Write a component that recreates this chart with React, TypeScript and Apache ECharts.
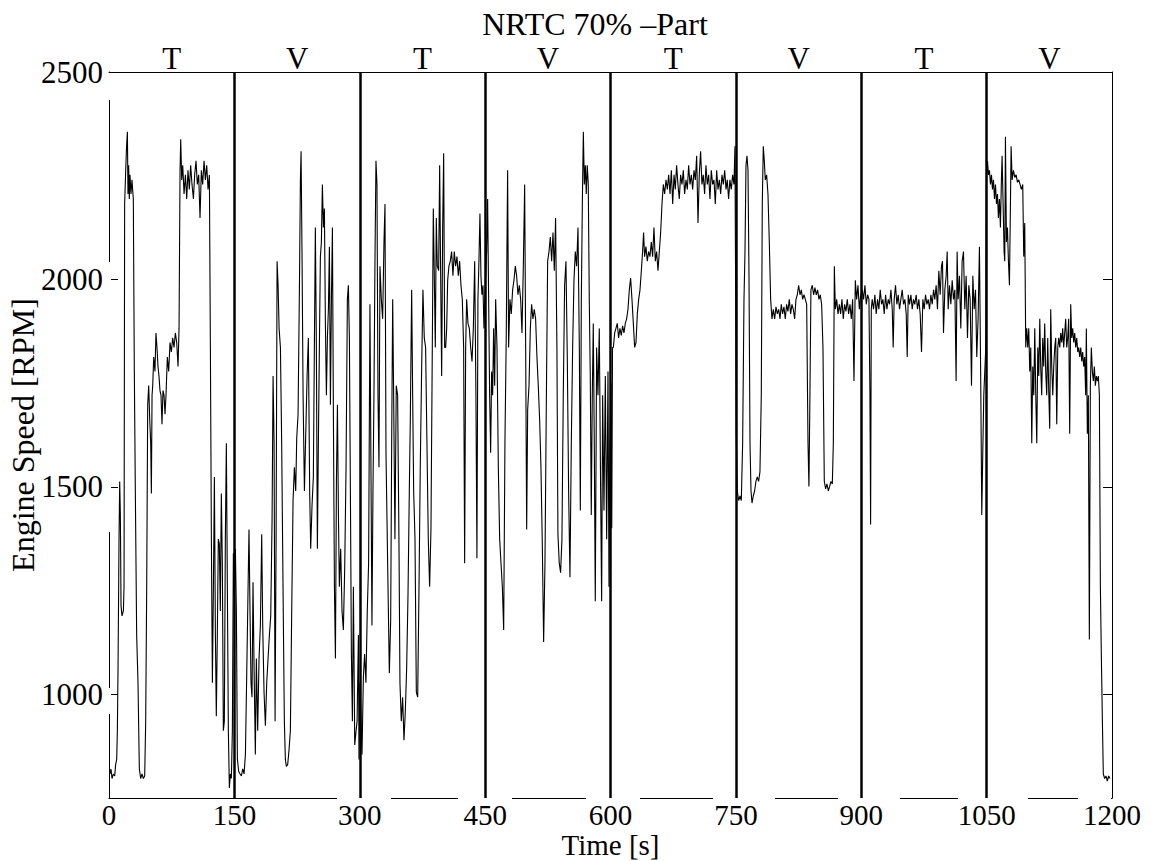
import React, { useEffect, useRef } from "react";
import * as echarts from "echarts";

// Engine speed [RPM] vs time [s], one array per test phase
const phase1: number[][] = [
[1.2,808],[2.4,820],[3.6,797],[5.2,808],[6.8,803],[8,831],[9.2,843],[10,912],[10.8,1062],[12,1374],[12.8,1513],[13.6,1432],[14.4,1213],[15.6,1189],[17.2,1201],[18,1259],[18.7,2182],[20,2263],[21,2321],[22,2356],[22.7,2206],[23.5,2275],[24.3,2194],[25.1,2252],[26.3,2206],[27.5,2240],[29.1,2194],[30.3,1778],[31.5,1490],[33.1,1143],[34.7,1028],[36.3,820],[37.9,797],[39.5,808],[41.1,797],[42.7,803],[43.9,935],[45.1,1259],[46.3,1698],[47.5,1744],[48.7,1663],[49.9,1605],[50.7,1484],[51.5,1721],[52.3,1744],[53.5,1813],[55,1778],[56.2,1871],[57.4,1836],[58.6,1790],[59.8,1767],[61,1732],[62.2,1721],[63.4,1651],[64.6,1732],[65.8,1721],[67,1675],[68.2,1721],[69.8,1813],[71.4,1778],[73,1848],[74.6,1825],[76.2,1859],[77.8,1836],[79.4,1871],[81,1848],[82.6,1790],[83.8,1882],[85,2263],[85.8,2338],[87,2240],[88.2,2275],[89.8,2206],[91.4,2252],[93,2194],[94.5,2263],[96.1,2217],[97.7,2275],[99.3,2229],[101,2194],[102.5,2252],[104.1,2286],[105.7,2229],[107.3,2252],[108.9,2148],[110.5,2263],[112.1,2229],[113.7,2286],[115.3,2240],[116.9,2275],[118.5,2217],[120.1,2252],[121.3,1836],[122.5,1374],[123.7,1028],[124.9,1259],[126.1,1524],[127.3,1143],[128.4,947],[129.6,1143],[130.8,1374],[132,1363],[133.2,1201],[134.4,1484],[135.6,1316],[136.8,912],[138,935],[139.2,1374],[140.4,1605],[141.6,1259],[142.8,912],[144,774],[145.2,808],[146.4,797],[147.6,912],[148.8,1340]
];
const phase2: number[][] = [
[150,1236],[151.2,1351],[152.4,1201],[153.6,843],[155.2,814],[156.8,808],[158.4,803],[160,820],[161.6,808],[163.2,855],[164.8,1051],[166.4,1259],[167.5,1397],[168.7,1201],[169.9,1028],[171.1,993],[172.3,1270],[173.5,1074],[175.1,855],[176.3,1086],[177.9,912],[179.5,1086],[181.1,1166],[182.7,1386],[183.9,1166],[185.5,1005],[187.1,924],[188.7,1028],[190.3,1086],[191.9,1143],[193.5,1189],[195.1,1420],[196.3,1767],[197.5,1605],[198.7,935],[199.9,1374],[201.1,2044],[202.3,1986],[203.5,1882],[205.1,1836],[206.6,1605],[208.2,1259],[209.8,935],[211,843],[212.2,826],[213.8,831],[215.4,866],[217,912],[218.6,1201],[220.2,1467],[221.8,1547],[223.4,1490],[224.6,1617],[226.2,1675],[227.8,1975],[229,2240],[229.8,2309],[231,2044],[232.2,1721],[233.8,1490],[235.4,1628],[237,1767],[238.5,1859],[240.1,1490],[241.3,1351],[242.9,1455],[244.5,1524],[245.7,1836],[246.9,2125],[248.1,1836],[249.3,1351],[250.5,1605],[251.7,1836],[252.9,2055],[254.1,2090],[255.3,2229],[256.5,2125],[257.7,2171],[258.9,1894],[260.1,1721],[261.3,1859],[262.5,1928],[263.7,2079],[264.9,1698],[266.1,1952],[267.3,2125],[268.5,1663],[269.7,1259],[270.9,1086],[272.1,1513],[273.3,1698],[274.5,1432],[275.6,1259],[277.2,1351],[278.8,1201],[280.4,1155],[282,1305],[283.6,1547],[285.2,1952],[286.4,1986],[287.6,1859],[288.8,1490],[290,1097],[291.2,935],[292.4,1259],[294,878],[295.6,912],[296.8,935],[298.4,1143],[299.1,843]
];
const phase3: number[][] = [
[300.3,1028],[301.5,935],[302.7,855],[304.3,1039],[305.8,1097],[307.4,1028],[309,1201],[310.6,1316],[312.2,1940],[313.4,1547],[314.6,1166],[315.8,1490],[317,1721],[318.2,2044],[319.4,2286],[320.6,2229],[321.8,1721],[323,1547],[324.2,2032],[325.8,1952],[327.4,1905],[329,2090],[330.2,2182],[331.4,1582],[332.6,1420],[333.8,1259],[335.4,1051],[337,1178],[338.2,1605],[339.4,1952],[340.5,1732],[342.1,1374],[343.7,1744],[345.3,1721],[346.9,1374],[348.1,1028],[349.7,935],[351.3,993],[352.9,889],[354.5,958],[356.1,1062],[357.7,1236],[359.3,1490],[360.5,1663],[362.1,1975],[363.3,1721],[364.5,1490],[366.1,1374],[367.7,1005],[369.3,993],[370.9,1259],[372.4,1547],[374,1778],[375.6,1975],[377.2,1859],[378.8,1836],[380.4,1605],[382,1374],[383.6,1259],[385.2,1397],[386.8,1836],[388,2171],[389.2,2009],[390.4,1836],[391.6,2148],[392.8,2032],[394.4,2021],[395.6,2275],[396.8,2009],[398,1767],[399.2,2125],[400.4,2304],[401.6,1836],[402.8,1836],[404,1882],[405.2,1998],[406.7,2032],[408.3,2044],[409.9,2067],[411.5,2009],[413.1,2067],[414.7,2032],[416.3,2055],[417.9,2009],[419.5,2044],[421.1,1986],[422.7,1952],[424.3,1836],[425.5,1316],[426.7,1836],[427.9,1952],[429.5,1894],[431.1,1882],[432.7,1836],[434.3,1802],[435.9,1882],[437.5,2044],[439,1721],[440.2,1328],[441.4,1952],[442.6,2044],[443.8,2159],[445,2009],[446.2,1963],[447.4,1986],[448.6,1882]
];
const phase4: number[][] = [
[450.6,2009],[451.8,2067],[453,2194],[454.2,1952],[455.4,1721],[456.6,1582],[457.8,1778],[459,1721],[460.2,1882],[461.4,1744],[462.6,1952],[464.2,1836],[465.8,1547],[467.4,1374],[469,1316],[470.6,1259],[472.2,1155],[473.7,1605],[475.3,1871],[476.9,2263],[478.1,1836],[479.7,1952],[481.3,1917],[482.9,1975],[484.5,1998],[486.1,2032],[487.7,2009],[489.3,1963],[490.9,1986],[492.5,1952],[494.1,1871],[495.7,2032],[497.3,2229],[498.5,1836],[499.7,1397],[500.9,1686],[502.5,1744],[504.1,1882],[505.6,1940],[507.2,1905],[508.8,1928],[510.4,1905],[512,1813],[513.6,1744],[515.2,1663],[516.8,1547],[518.4,1363],[520,1126],[521.6,1316],[523.2,1698],[524.8,2044],[526.4,2067],[528,2102],[529.6,2044],[531.2,2113],[532.8,2021],[534.3,2148],[535.9,1836],[537.1,1386],[538.7,1316],[540.3,1293],[541.9,1374],[543.5,1721],[545.1,1986],[546.7,2044],[548.3,1813],[549.9,1490],[551.5,1282],[553.1,1605],[554.7,1836],[556.3,1998],[557.9,2067],[559.5,2032],[561.1,2125],[562.7,1836],[563.9,1443],[565.1,1952],[566.3,2182],[567.5,2356],[568.7,2229],[569.9,2275],[571,2206],[572.2,2275],[573.4,2229],[574.6,1952],[575.8,1767],[577,1432],[578.2,1721],[579.4,1894],[580.6,1605],[581.8,1224],[583.4,1836],[585,1721],[586.6,1882],[588.2,1490],[589.4,1224],[590.6,1721],[592.2,1443],[593.8,1767],[595.4,1374],[597,1778],[598.2,1259],[599.2,1600]
];
const phase5: number[][] = [
[600.5,1750],[601.5,1400],[602.4,1836],[603.4,1836],[605,1871],[606.5,1882],[608.1,1894],[609.7,1859],[611.3,1882],[612.9,1865],[614.5,1888],[616.1,1871],[617.7,1894],[619.3,1905],[620.9,1928],[622.5,1975],[624.1,2003],[625.7,1952],[627.3,1894],[628.9,1836],[630.5,1848],[632.1,1917],[633.7,1952],[635.3,1975],[636.9,2021],[638.4,2067],[639.6,2113],[640.8,2055],[642.4,2079],[644,2044],[645.6,2067],[647.2,2055],[648.8,2090],[650.4,2055],[652,2125],[653.6,2044],[655.2,2067],[656.8,2021],[658.4,2067],[660,2113],[661.6,2182],[663.2,2229],[664.8,2206],[666.4,2240],[668,2217],[669.6,2252],[671.2,2206],[672.8,2263],[674.4,2182],[676,2252],[677.5,2217],[679.1,2275],[680.7,2229],[682.3,2194],[683.9,2252],[685.5,2229],[687.1,2263],[688.7,2206],[690.3,2240],[691.9,2217],[693.5,2275],[695.1,2229],[696.7,2252],[698.3,2217],[699.9,2263],[701.5,2240],[703.1,2298],[704.7,2136],[706.2,2252],[707.8,2309],[709.4,2229],[711,2252],[712.6,2206],[714.2,2275],[715.8,2229],[717.4,2252],[719,2194],[720.6,2263],[722.2,2229],[723.8,2240],[725.4,2182],[727,2263],[728.6,2217],[730.2,2240],[731.8,2206],[733.4,2252],[735,2229],[736.6,2263],[738.2,2217],[739.7,2240],[741.3,2194],[742.9,2240],[744.5,2217],[746.1,2252],[747.7,2229],[748.9,2321]
];
const phase6: number[][] = [
[750.5,1628],[751.7,1490],[753.3,1467],[754.9,1478],[756.5,1467],[758.1,1605],[759.7,1952],[760.9,2067],[762.1,2275],[763.3,2298],[764.5,2263],[765.7,2009],[766.9,1605],[768.1,1490],[769.3,1461],[770.8,1478],[772.4,1490],[774,1513],[775.6,1524],[777.2,1513],[778.8,1536],[780.4,1721],[781.6,2182],[782.8,2321],[784,2286],[785.2,2240],[786.8,2252],[788.4,2206],[790,2090],[791.6,1952],[793.2,1905],[794.8,1928],[796.4,1905],[798,1934],[799.6,1917],[801.2,1928],[802.8,1905],[804.3,1940],[805.9,1917],[807.5,1934],[809.1,1905],[810.7,1940],[812.3,1923],[813.9,1952],[815.5,1917],[817.1,1940],[818.7,1928],[820.3,1905],[821.9,1952],[823.5,1963],[825.1,1986],[826.7,1963],[828.3,1975],[829.9,1952],[831.5,1963],[833.1,1952],[834.7,1940],[836.3,1605],[837.4,1501],[838.6,1721],[839.8,1975],[841.4,1986],[843,1963],[844.6,1980],[846.2,1963],[847.8,1975],[849.4,1952],[851,1963],[852.6,1940],[854.2,1836],[855.8,1513],[857.4,1495],[859,1507],[860.6,1490],[862.2,1501],[863.8,1513],[865.4,1507],[866.6,1605],[867.8,2032],[869,1928],[870.6,1952],[872.2,1917],[873.8,1940],[875.3,1917],[876.9,1952],[878.5,1905],[880.1,1940],[881.7,1923],[883.3,1952],[884.9,1917],[886.5,1940],[888.1,1905],[889.7,1952],[891.3,1755],[892.9,1998],[894.5,1952],[896.1,1986],[897.7,1928],[899.2,1960]
];
const phase7: number[][] = [
[901.2,1975],[902.8,1952],[904.4,1986],[906,1940],[907.6,1963],[909.2,1952],[910.4,1721],[911.2,1409],[912,1928],[913.1,1952],[914.7,1928],[916.3,1963],[917.9,1917],[919.5,1952],[921.1,1928],[922.7,1975],[924.3,1940],[925.9,1952],[927.5,1917],[929.1,1963],[930.7,1928],[932.3,1952],[933.9,1940],[935.5,1975],[937.1,1928],[938.2,1836],[939.4,1952],[941,1986],[942.6,1940],[944.2,1963],[945.8,1928],[947.4,1952],[949,1975],[950.6,1940],[952.2,1952],[953.8,1917],[955,1813],[956.2,1963],[957.8,1940],[959.4,1963],[961,1928],[962.5,1952],[964.1,1940],[965.7,1963],[967.3,1928],[968.9,1952],[970.5,1917],[972.1,1825],[973.7,1952],[975.3,1928],[976.9,1963],[978.5,1940],[980.1,1952],[981.7,1928],[983.3,1963],[984.9,1940],[986.5,1975],[988,1952],[989.6,1986],[991.2,1928],[992.8,2021],[994.4,1963],[996,2032],[997.2,2044],[998.4,1871],[1000,1975],[1001.6,2009],[1002.8,2067],[1004,1928],[1005.6,1986],[1007.2,1940],[1008.8,1998],[1010.4,1952],[1012,1975],[1013.5,1755],[1014.7,2067],[1015.9,1952],[1017.5,2009],[1019.1,1882],[1020.7,2044],[1022.3,2067],[1023.9,1928],[1025.5,2009],[1027.1,1859],[1028.7,1986],[1030.3,1952],[1031.9,1744],[1033.5,2009],[1035.1,1928],[1036.7,1975],[1038.2,1813],[1039.8,1905],[1041.4,2079],[1043,1744],[1044.2,1432],[1045.4,1582],[1046.6,1721],[1049,1836]
];
const phase8: number[][] = [
[1049.8,2240],[1051,2286],[1052.2,2252],[1053.4,2263],[1054.6,2229],[1055.8,2252],[1057,2217],[1058.2,2240],[1059.4,2194],[1060.6,2229],[1061.8,2182],[1063,2206],[1064.1,2148],[1065.3,2194],[1066.5,2125],[1067.7,2240],[1068.5,2298],[1069.7,2182],[1070.9,2067],[1071.7,2044],[1072.5,2344],[1073.7,2090],[1074.9,2125],[1076.1,2044],[1077.3,1986],[1078.5,2182],[1079.3,2321],[1080.5,2240],[1082.1,2263],[1083.7,2246],[1085.3,2252],[1086.9,2234],[1088.4,2240],[1090,2229],[1091.6,2217],[1093.2,2229],[1094.4,2055],[1095.6,2136],[1096.8,1836],[1098,1882],[1099.2,1836],[1100.4,1882],[1101.6,1778],[1102.8,1836],[1104,1605],[1105.2,1790],[1106.4,1721],[1107.6,1882],[1108.8,1721],[1110,1605],[1111.2,1836],[1112.4,1767],[1113.6,1905],[1114.7,1790],[1115.9,1721],[1117.1,1859],[1118.3,1790],[1119.5,1894],[1120.7,1778],[1121.9,1721],[1123.1,1859],[1124.3,1732],[1125.5,1640],[1126.7,1928],[1127.9,1790],[1129.1,1721],[1130.3,1790],[1131.5,1836],[1132.7,1859],[1133.9,1651],[1135.1,1836],[1136.3,1859],[1137.5,1836],[1138.7,1871],[1139.9,1848],[1141,1882],[1142.2,1836],[1143.4,1871],[1144.6,1905],[1145.8,1836],[1147,1859],[1148.2,1905],[1149.4,1628],[1150.6,1940],[1151.8,1859],[1153,1882],[1154.2,1848],[1155.4,1871],[1156.6,1836],[1157.8,1859],[1159,1825],[1160.2,1836],[1161.4,1813],[1162.6,1836],[1163.8,1802],[1164.9,1825],[1166.1,1790],[1167.3,1813],[1168.5,1721],[1169.3,1882],[1170.5,1628],[1171.7,1721],[1172.9,1132],[1174.1,1744],[1175.3,1836],[1176.5,1778],[1177.7,1755],[1178.9,1790],[1180.1,1744],[1181.3,1767],[1182.5,1755],[1183.7,1767],[1184.9,1721],[1186.1,1259],[1187.3,1086],[1188.5,935],[1189.6,808],[1191.2,797],[1192.8,803],[1194.4,791],[1196,803],[1197.6,797]
];

const phaseNames = ["T", "V", "T", "V", "T", "V", "T", "V"];
const phaseBounds = [150, 300, 450, 600, 750, 900, 1050];
const yTickValues = [1000, 1500, 2000, 2500];

const FONT = "'Liberation Serif', 'Times New Roman', serif";

export default function App() {
  const ref = useRef<HTMLDivElement>(null);
  useEffect(() => {
    document.body.style.margin = "0";
    const chart = echarts.init(ref.current as HTMLDivElement, null, { renderer: "svg" });
    const data = [...phase1, ...phase2, ...phase3, ...phase4, ...phase5, ...phase6, ...phase7, ...phase8];
    const black = "#000";
    const textBase = { fontFamily: FONT, color: black, fontSize: 31 };
    // white breaks in the frame, as in the reference figure (decoration only)
    const frameBreaks = [
      [337, 796, 54, 4], [458, 796, 54, 4], [586, 796, 54, 4], [713, 796, 62, 4],
      [838, 796, 62, 4], [958, 796, 70, 4], [1078, 796, 33, 4],
      [107, 73, 4, 27], [107, 262, 4, 270], [107, 688, 4, 26],
    ];
    chart.setOption({
      animation: false,
      backgroundColor: "#fff",
      title: {
        text: "NRTC 70% \u2013Part",
        left: 591,
        top: 7,
        textAlign: "center",
        padding: 4,
        textStyle: { ...textBase, fontSize: 32, fontWeight: "normal", lineHeight: 26 },
      },
      grid: { left: 109, right: 42, top: 72, bottom: 63, outerBoundsMode: "none", containLabel: false },
      xAxis: [
        {
          type: "value",
          min: 0,
          max: 1200,
          interval: 150,
          position: "bottom",
          name: "Time [s]",
          nameLocation: "middle",
          nameGap: 36,
          nameMoveOverlap: false,
          nameTextStyle: { ...textBase, fontSize: 29, lineHeight: 22 },
          axisLine: { show: true, onZero: false, lineStyle: { color: black, width: 1 } },
          axisTick: { show: false },
          splitLine: { show: false },
          axisLabel: { ...textBase, fontSize: 29, margin: 6, lineHeight: 22, formatter: (v: number) => String(v) },
        },
        {
          type: "value",
          min: 0,
          max: 1200,
          interval: 75,
          position: "top",
          axisLine: { show: true, onZero: false, lineStyle: { color: black, width: 1 } },
          axisTick: { show: false },
          splitLine: { show: false },
          axisLabel: {
            ...textBase,
            fontSize: 31,
            lineHeight: 24,
            margin: 2,
            formatter: (v: number) => {
              const k = Math.round(v / 75);
              return k % 2 === 1 ? phaseNames[(k - 1) / 2] : "";
            },
          },
        },
      ],
      yAxis: [
        {
          type: "value",
          min: 750,
          max: 2500,
          position: "left",
          name: "Engine Speed [RPM]",
          nameLocation: "middle",
          nameGap: 70,
          nameMoveOverlap: false,
          nameTextStyle: { ...textBase, fontSize: 32, lineHeight: 32 },
          axisLine: { show: true, onZero: false, lineStyle: { color: black, width: 1 } },
          axisTick: { show: true, inside: true, length: 9, customValues: yTickValues, lineStyle: { color: black } },
          axisLabel: { ...textBase, margin: 6, customValues: yTickValues, padding: [6, 0, 0, 0], formatter: (v: number) => String(v) },
          splitLine: { show: false },
        },
        {
          type: "value",
          min: 750,
          max: 2500,
          position: "right",
          axisLine: { show: true, onZero: false, lineStyle: { color: black, width: 1 } },
          axisTick: { show: true, inside: true, length: 9, customValues: yTickValues, lineStyle: { color: black } },
          axisLabel: { show: false },
          splitLine: { show: false },
        },
      ],
      graphic: frameBreaks.map(([x, y, w, h]) => ({
        type: "rect",
        silent: true,
        z: 1,
        shape: { x, y, width: w, height: h },
        style: { fill: "#fff" },
      })),
      series: [
        {
          type: "line",
          xAxisIndex: 0,
          yAxisIndex: 0,
          data,
          showSymbol: false,
          symbol: "none",
          lineStyle: { color: black, width: 1.1 },
          silent: true,
          z: 5,
          markLine: {
            silent: true,
            symbol: ["none", "none"],
            label: { show: false },
            lineStyle: { color: black, width: 2.5, type: "solid" },
            emphasis: { disabled: true },
            data: phaseBounds.map((b) => ({ xAxis: b })),
          },
        },
      ],
    });
    return () => chart.dispose();
  }, []);
  return <div ref={ref} style={{ position: "fixed", left: 0, top: 0, width: 1154, height: 861 }} />;
}
